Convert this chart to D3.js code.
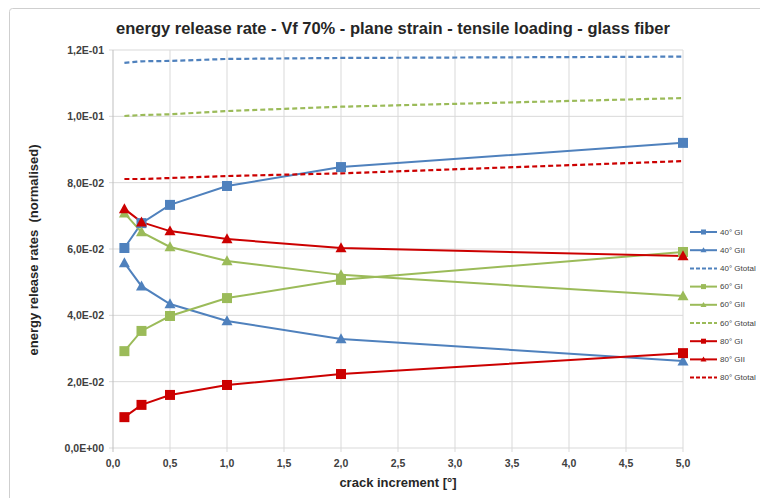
<!DOCTYPE html>
<html>
<head>
<meta charset="utf-8">
<script src="https://cdn.jsdelivr.net/npm/d3@7"></script>
<style>
  body { margin: 0; background: #fff; }
  svg { font-family: "Liberation Sans", Arial, sans-serif; }
</style>
</head>
<body>
<svg id="chart" width="760" height="498"></svg>
<script>
  // crack increment values (degrees)
  var crack = [0.1, 0.25, 0.5, 1, 2, 5];

  var gI40 = [0.0603, 0.0678, 0.0733, 0.0790, 0.0847, 0.0920];
  var gII40 = [0.0558, 0.0488, 0.0434, 0.0383, 0.0329, 0.0262];
  var gTot40 = [0.1161, 0.1166, 0.1167, 0.1173, 0.1176, 0.1180];

  var gI60 = [0.0292, 0.0353, 0.0398, 0.0452, 0.0507, 0.0591];
  var gII60 = [0.0708, 0.0651, 0.0606, 0.0564, 0.0522, 0.0458];
  var gTot60 = [0.1001, 0.1004, 0.1006, 0.1016, 0.1029, 0.1055];

  var gI80 = [0.0093, 0.0130, 0.0160, 0.0190, 0.0223, 0.0286];
  var gII80 = [0.0721, 0.0681, 0.0654, 0.0630, 0.0603, 0.0579];
  var gTot80 = [0.0811, 0.0811, 0.0814, 0.0820, 0.0828, 0.0865];

  var xTicks = [0, 0.5, 1, 1.5, 2, 2.5, 3, 3.5, 4, 4.5, 5];
  var yTicks = [0, 0.02, 0.04, 0.06, 0.08, 0.10, 0.12];
  var yTickLabels = ["0,0E+00", "2,0E-02", "4,0E-02", "6,0E-02", "8,0E-02", "1,0E-01", "1,2E-01"];

  var series = [
    {name: "40° GI", vals: gI40, color: "#4F81BD", mark: "square", dash: null},
    {name: "40° GII", vals: gII40, color: "#4F81BD", mark: "triangle", dash: null},
    {name: "40° Gtotal", vals: gTot40, color: "#4F81BD", mark: null, dash: "5,3"},
    {name: "60° GI", vals: gI60, color: "#9BBB59", mark: "square", dash: null},
    {name: "60° GII", vals: gII60, color: "#9BBB59", mark: "triangle", dash: null},
    {name: "60° Gtotal", vals: gTot60, color: "#9BBB59", mark: null, dash: "5,3"},
    {name: "80° GI", vals: gI80, color: "#CC0000", mark: "square", dash: null},
    {name: "80° GII", vals: gII80, color: "#CC0000", mark: "triangle", dash: null},
    {name: "80° Gtotal", vals: gTot80, color: "#CC0000", mark: null, dash: "5,3"}
  ];

  var svg = d3.select("#chart");

  // chart frame
  svg.append("rect")
    .attr("x", 9.5).attr("y", 8.5)
    .attr("width", 760).attr("height", 500)
    .attr("rx", 3)
    .attr("fill", "#fff").attr("stroke", "#cfcfcf");

  var pLeft = 113, pRight = 683, pTop = 50, pBottom = 448;

  var x = d3.scaleLinear().domain([0, 5]).range([pLeft, pRight]);
  var y = d3.scaleLinear().domain([0, 0.12]).range([pBottom, pTop]);

  // grid
  svg.append("g").selectAll("line")
    .data(xTicks.slice(1))
    .enter().append("line")
    .attr("x1", function (d) { return x(d); }).attr("x2", function (d) { return x(d); })
    .attr("y1", pTop).attr("y2", pBottom + 4)
    .attr("stroke", "#d9d9d9");

  svg.append("g").selectAll("line")
    .data(yTicks)
    .enter().append("line")
    .attr("x1", pLeft - 4).attr("x2", pRight)
    .attr("y1", function (d) { return y(d); }).attr("y2", function (d) { return y(d); })
    .attr("stroke", "#d9d9d9");

  svg.append("line")
    .attr("x1", pLeft).attr("x2", pLeft)
    .attr("y1", pTop).attr("y2", pBottom + 4)
    .attr("stroke", "#bfbfbf");

  // tick labels
  svg.append("g").selectAll("text")
    .data(xTicks)
    .enter().append("text")
    .attr("x", function (d) { return x(d); })
    .attr("y", pBottom + 19)
    .attr("text-anchor", "middle")
    .attr("font-size", 10.5).attr("font-weight", "bold").attr("fill", "#404040")
    .text(function (d) { return d.toFixed(1).replace(".", ","); });

  svg.append("g").selectAll("text")
    .data(yTicks)
    .enter().append("text")
    .attr("x", pLeft - 9)
    .attr("y", function (d) { return y(d) + 4; })
    .attr("text-anchor", "end")
    .attr("font-size", 10.5).attr("font-weight", "bold").attr("fill", "#404040")
    .text(function (d, i) { return yTickLabels[i]; });

  // titles
  svg.append("text")
    .attr("x", 393).attr("y", 34)
    .attr("text-anchor", "middle")
    .attr("font-size", 16.5).attr("font-weight", "bold").attr("fill", "#262626")
    .text("energy release rate - Vf 70% - plane strain - tensile loading - glass fiber");

  svg.append("text")
    .attr("x", 398).attr("y", 487)
    .attr("text-anchor", "middle")
    .attr("font-size", 13).attr("font-weight", "bold").attr("fill", "#262626")
    .text("crack increment [°]");

  svg.append("text")
    .attr("transform", "translate(38,250)rotate(-90)")
    .attr("text-anchor", "middle")
    .style("white-space", "pre")
    .attr("font-size", 13).attr("font-weight", "bold").attr("fill", "#262626")
    .text("energy release rates  (normalised)");

  var line = d3.line()
    .x(function (d, i) { return x(crack[i]); })
    .y(function (d) { return y(d); });

  function drawMark(g, kind, cx, cy, color, s) {
    if (kind === "square") {
      g.append("rect")
        .attr("x", cx - s / 2).attr("y", cy - s / 2)
        .attr("width", s).attr("height", s)
        .attr("fill", color);
    } else if (kind === "triangle") {
      var h = s * 0.95;
      g.append("path")
        .attr("d", "M" + cx + "," + (cy - h * 0.6) + "L" + (cx + s / 2 + 0.5) + "," + (cy + h * 0.45) +
          "L" + (cx - s / 2 - 0.5) + "," + (cy + h * 0.45) + "Z")
        .attr("fill", color);
    }
  }

  var plot = svg.append("g");
  series.forEach(function (s) {
    plot.append("path")
      .datum(s.vals)
      .attr("d", line)
      .attr("fill", "none")
      .attr("stroke", s.color)
      .attr("stroke-width", s.dash ? 2.2 : 2)
      .attr("stroke-dasharray", s.dash);
  });
  series.forEach(function (s) {
    if (!s.mark) return;
    s.vals.forEach(function (v, i) {
      drawMark(plot, s.mark, x(crack[i]), y(v), s.color, 10);
    });
  });

  // legend
  var legend = svg.append("g");
  series.forEach(function (s, i) {
    var ly = 232 + i * 18.2;
    legend.append("line")
      .attr("x1", 690).attr("x2", 717)
      .attr("y1", ly).attr("y2", ly)
      .attr("stroke", s.color).attr("stroke-width", 2)
      .attr("stroke-dasharray", s.dash ? "4,2" : null);
    if (s.mark) drawMark(legend, s.mark, 703.5, ly, s.color, 5);
    legend.append("text")
      .attr("x", 720).attr("y", ly + 2.5)
      .attr("font-size", 8).attr("fill", "#404040")
      .text(s.name);
  });
</script>
</body>
</html>
